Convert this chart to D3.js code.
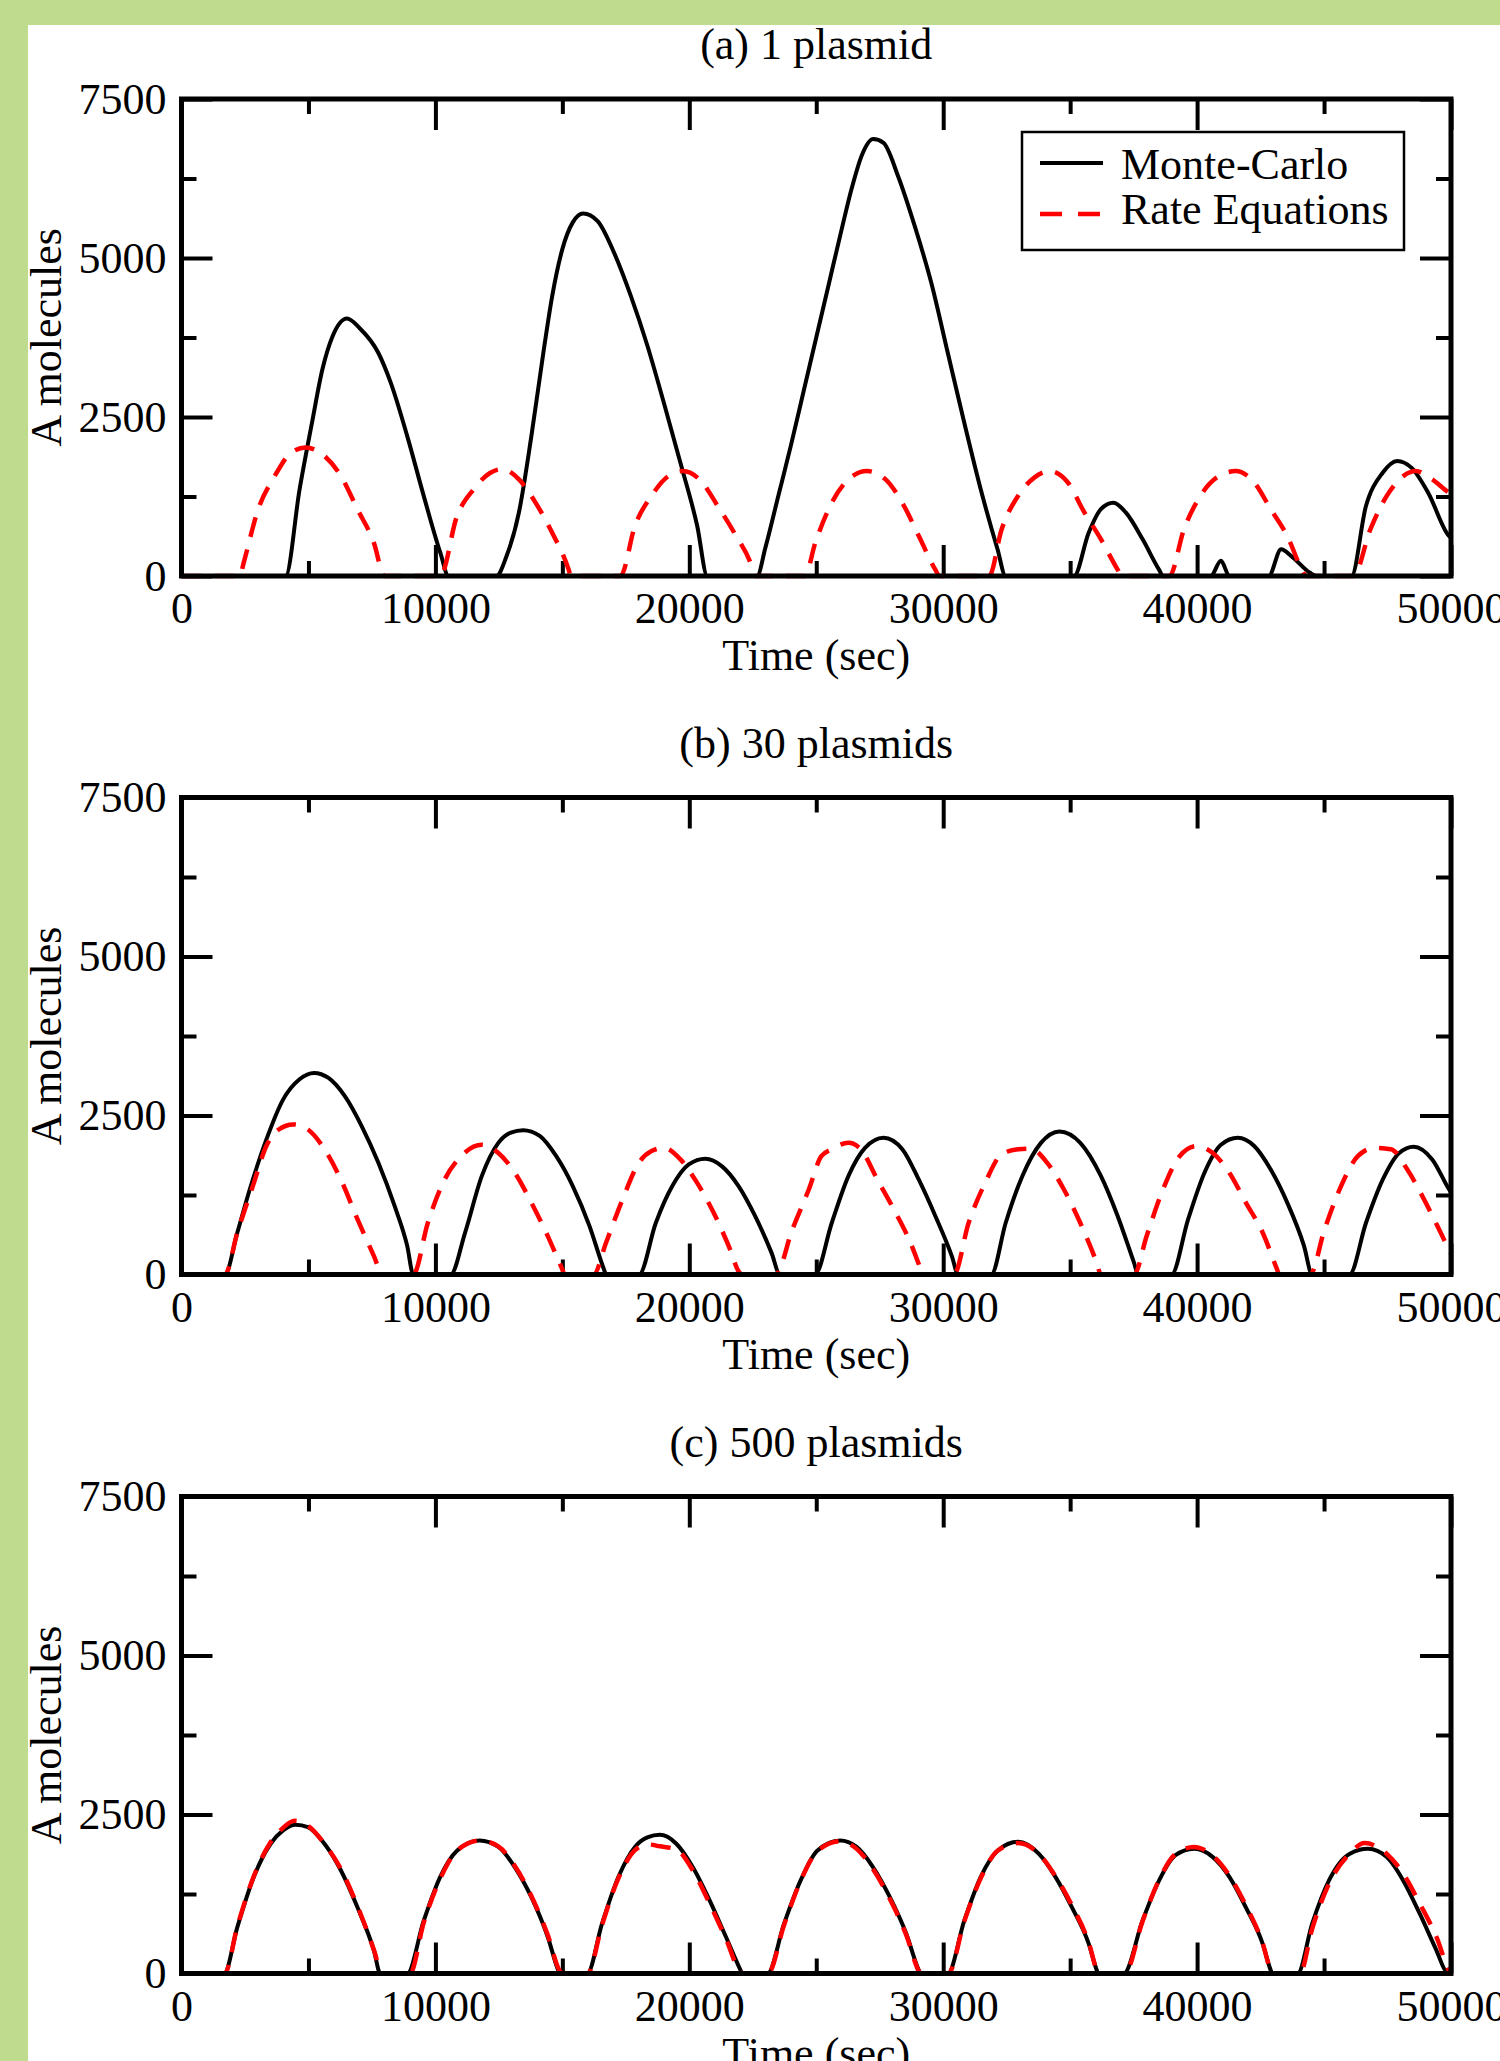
<!DOCTYPE html>
<html>
<head>
<meta charset="utf-8">
<title>A molecules</title>
<script src="https://cdn.jsdelivr.net/npm/d3@7/dist/d3.min.js"></script>
<style>
    body{ margin:0; padding:0; background:#fff; }
    svg text{ font-family:"Liberation Serif","Times New Roman",serif; fill:#000; }
    .tick line{ stroke:#000; stroke-width:4px; }
    .domain{ display:none; }
</style>
</head>
<body>
<svg id="chart" width="1500" height="2061"></svg>
<script>

// ---------- data: [time (sec), A molecules] ----------
var mc1 = [[0,0],[4100,0],[4650,1360],[5140,2410],[5550,3250],[5950,3770],[6520,4050],[7010,3900],
    [7750,3510],[8240,3040],[8890,2200],[9540,1260],[10190,370],[10520,0],[12400,0],[12800,310],
    [13290,1000],[13780,2200],[14270,3560],[14600,4400],[15000,5140],[15410,5560],[15820,5700],
    [16390,5580],[17040,5080],[17700,4400],[18350,3620],[19000,2720],[19650,1780],[20310,790],
    [20710,0],[22670,0],[23000,450],[23500,1250],[24000,2050],[24500,2900],[25000,3750],[25500,4600],
    [26000,5450],[26400,6100],[26800,6620],[27240,6870],[27650,6810],[28220,6290],[28880,5500],
    [29530,4610],[30180,3510],[30830,2410],[31480,1360],[32140,420],[32460,0],[35150,0],[35730,680],
    [36210,1050],[36700,1150],[37190,1000],[37850,580],[38500,100],[38660,0],[40540,0],[40940,240],
    [41270,0],[42820,0],[43310,420],[43720,310],[44450,50],[44700,0],[46080,0],[46650,1100],
    [47300,1620],[47880,1810],[48450,1700],[49100,1310],[49920,630],[50000,600]];
var re1 = [[0,0],[2300,0],[2450,210],[3020,1050],[3670,1570],[4320,1940],[4890,2020],[5460,1940],
    [6280,1570],[6930,1050],[7580,520],[7990,0],[10190,0],[10850,940],[11500,1360],[12150,1620],
    [12640,1680],[13290,1520],[13950,1150],[14600,680],[15250,100],[15330,0],[17290,0],[17860,790],
    [18510,1260],[19170,1570],[19740,1650],[20470,1490],[21120,1100],[21770,680],[22510,100],
    [22590,0],[24550,0],[24960,520],[25610,1150],[26270,1520],[27000,1650],[27730,1520],[28390,1150],
    [29040,630],[29690,100],[29850,0],[31810,0],[32300,730],[32950,1260],[33600,1550],[34180,1650],
    [34910,1470],[35560,1000],[36210,580],[36870,100],[37030,0],[38910,0],[39480,730],[40130,1260],
    [40780,1550],[41520,1650],[42250,1470],[42900,1050],[43550,630],[44130,100],[44290,0],[46160,0],
    [46820,730],[47470,1260],[48120,1570],[48610,1650],[49260,1520],[49920,1310],[50000,1290]];

var mc30 = [[0,0],[1710,0],[2200,660],[2690,1340],[3340,2120],[4000,2750],[4650,3070],[5220,3170],
    [5790,3090],[6440,2800],[7100,2330],[7750,1760],[8400,1070],[8890,450],[9130,0],[10600,0],
    [11170,660],[11830,1550],[12480,2070],[12970,2230],[13460,2270],[14110,2180],[14760,1860],
    [15410,1390],[16070,760],[16640,80],[16720,0],[18020,0],[18680,810],[19330,1390],[19980,1730],
    [20630,1820],[21290,1700],[21940,1390],[22590,920],[23240,340],[23570,0],[24950,0],[25610,810],
    [26270,1550],[26920,1990],[27650,2150],[28390,1970],[29040,1490],[29690,920],[30340,290],
    [30590,0],[31890,0],[32460,810],[33120,1550],[33850,2070],[34580,2250],[35400,2070],[36210,1550],
    [36870,920],[37520,180],[37680,0],[38990,0],[39640,860],[40290,1600],[40940,2040],[41600,2150],
    [42250,2020],[42900,1650],[43550,1130],[44210,450],[44530,0],[46000,0],[46650,810],[47310,1490],
    [47960,1910],[48530,2010],[49260,1810],[49920,1340],[50000,1290]];
var re30 = [[0,0],[1710,0],[2200,660],[2850,1440],[3340,2020],[3830,2280],[4400,2360],[4980,2280],
    [5630,1970],[6280,1490],[6930,870],[7580,290],[7910,0],[9130,0],[9700,810],[10360,1490],
    [11010,1860],[11830,2040],[12480,1910],[13130,1600],[13780,1130],[14430,600],[15000,80],
    [15090,0],[16230,0],[16720,500],[17370,1180],[18020,1760],[18510,1940],[19000,1990],[19650,1810],
    [20310,1440],[20960,970],[21610,390],[21940,50],[22100,0],[23400,0],[24060,710],[24710,1340],
    [25200,1860],[25610,1970],[26270,2070],[26750,1970],[27410,1490],[28060,1020],[28710,500],
    [29120,80],[29200,0],[30420,0],[31000,810],[31650,1440],[32300,1890],[32950,1970],[33440,1980],
    [34090,1760],[34750,1340],[35400,810],[36050,180],[36210,0],[37520,0],[38010,600],[38660,1340],
    [39310,1860],[39970,2020],[40620,1910],[41270,1600],[41920,1130],[42580,660],[43150,80],
    [43230,0],[44450,0],[45020,710],[45670,1390],[46330,1860],[46980,1990],[47630,1970],[48280,1650],
    [48940,1180],[49590,660],[49920,390],[50000,330]];

var mc500 = [[0,0],[1680,0],[2200,730],[2850,1520],[3510,2040],[4000,2250],[4490,2340],[4980,2300],
    [5630,2040],[6280,1620],[6930,1040],[7580,360],[7830,0],[8890,0],[9540,830],[10190,1520],
    [10850,1930],[11740,2090],[12480,1990],[13130,1670],[13780,1200],[14430,570],[14840,50],
    [14900,0],[15980,0],[16560,780],[17210,1520],[17860,1990],[18350,2140],[18840,2180],[19490,2040],
    [20140,1670],[20800,1150],[21450,570],[22020,50],[22080,0],[23080,0],[23730,780],[24380,1460],
    [25040,1930],[25940,2090],[26590,1990],[27240,1670],[27900,1200],[28550,620],[29040,50],
    [29100,0],[30180,0],[30830,830],[31480,1520],[32140,1930],[32950,2070],[33770,1880],[34420,1520],
    [35070,1040],[35730,470],[36050,50],[36100,0],[37110,0],[37850,830],[38500,1460],[39150,1860],
    [39880,1960],[40620,1830],[41270,1520],[41920,1040],[42580,470],[42900,50],[42950,0],[43960,0],
    [44530,780],[45190,1460],[46000,1880],[46730,1960],[47470,1830],[48120,1460],[48770,940],
    [49430,360],[49830,20],[50000,0]];
var re500 = [[0,0],[1700,0],[2200,740],[2850,1530],[3500,2060],[4000,2290],[4450,2400],[4950,2330],
    [5630,2040],[6280,1640],[6930,1060],[7580,370],[7900,0],[9000,0],[9540,800],[10190,1490],
    [10850,1930],[11750,2090],[12480,2000],[13130,1690],[13780,1220],[14430,600],[14900,40],
    [15000,0],[16000,0],[16560,760],[17210,1500],[17860,1940],[18350,2030],[18840,2000],[19490,1950],
    [20140,1620],[20800,1100],[21450,540],[22000,30],[22100,0],[23100,0],[23730,760],[24380,1450],
    [25040,1920],[25940,2080],[26590,1960],[27240,1640],[27900,1170],[28550,600],[29050,30],
    [29100,0],[30200,0],[30830,820],[31480,1500],[32140,1930],[32950,2050],[33770,1880],[34420,1530],
    [35070,1070],[35730,490],[36080,30],[36150,0],[37150,0],[37850,820],[38500,1470],[39150,1880],
    [39880,1990],[40620,1850],[41270,1540],[41920,1070],[42570,490],[42930,30],[43000,0],[44050,0],
    [44530,700],[45180,1400],[46000,1880],[46600,2050],[47470,1880],[48120,1570],[48770,1100],
    [49430,570],[49920,50],[50000,0]];

var panelTitles = ["(a) 1 plasmid", "(b) 30 plasmids", "(c) 500 plasmids"];
var seriesNames = ["Monte-Carlo", "Rate Equations"];
var xMajorTicks = [0, 10000, 20000, 30000, 40000, 50000];
var xMinorTicks = [5000, 15000, 25000, 35000, 45000];
var yMajorTicks = [0, 2500, 5000, 7500];
var yMinorTicks = [1250, 3750, 6250];
var xLabel = "Time (sec)";
var yLabel = "A molecules";

// ---------- layout ----------
var W = 1500, H = 2061;
var left = 181.5, right = 1451;
var panelTops = [99, 797.5, 1496.5];
var plotH = 477;
var fontSize = 44;

var svg = d3.select("#chart");

svg.append("rect").attr("width", W).attr("height", H).attr("fill", "#bfdc8e");
svg.append("rect").attr("x", 28).attr("y", 25).attr("width", W - 28).attr("height", H - 25).attr("fill", "#fff");

var x = d3.scaleLinear().domain([0, 50000]).range([left, right]);

function drawPanel(i, mc, re, withLegend) {
    var top = panelTops[i];
    var bottom = top + plotH;
    var y = d3.scaleLinear().domain([0, 7500]).range([bottom, top]);
    var g = svg.append("g");

    // title
    g.append("text")
        .attr("x", (left + right) / 2)
        .attr("y", top - 40)
        .attr("text-anchor", "middle")
        .attr("font-size", fontSize)
        .text(panelTitles[i]);

    // axes, all ticks pointing inward
    g.append("g").attr("transform", "translate(0," + bottom + ")")
        .call(d3.axisBottom(x).tickValues(xMajorTicks).tickSize(-31).tickPadding(16).tickFormat(d3.format("d")))
        .call(function(a){ a.selectAll("text").attr("font-size", fontSize).attr("font-family", null); });
    g.append("g").attr("transform", "translate(0," + bottom + ")")
        .call(d3.axisBottom(x).tickValues(xMinorTicks).tickSize(-15).tickFormat(""));
    g.append("g").attr("transform", "translate(0," + top + ")")
        .call(d3.axisTop(x).tickValues(xMajorTicks).tickSize(-31).tickFormat(""));
    g.append("g").attr("transform", "translate(0," + top + ")")
        .call(d3.axisTop(x).tickValues(xMinorTicks).tickSize(-15).tickFormat(""));

    g.append("g").attr("transform", "translate(" + left + ",0)")
        .call(d3.axisLeft(y).tickValues(yMajorTicks).tickSize(-31).tickPadding(15).tickFormat(d3.format("d")))
        .call(function(a){ a.selectAll("text").attr("font-size", fontSize).attr("font-family", null).attr("dy", "0.32em"); });
    g.append("g").attr("transform", "translate(" + left + ",0)")
        .call(d3.axisLeft(y).tickValues(yMinorTicks).tickSize(-15).tickFormat(""));
    g.append("g").attr("transform", "translate(" + right + ",0)")
        .call(d3.axisRight(y).tickValues(yMajorTicks).tickSize(-31).tickFormat(""));
    g.append("g").attr("transform", "translate(" + right + ",0)")
        .call(d3.axisRight(y).tickValues(yMinorTicks).tickSize(-15).tickFormat(""));

    var line = d3.line()
        .x(function(d){ return x(d[0]); })
        .y(function(d){ return y(d[1]); })
        .curve(d3.curveMonotoneX);

    // Monte-Carlo first, rate equations dashed on top
    g.append("path").datum(mc)
        .attr("d", line)
        .attr("fill", "none")
        .attr("stroke", "#000")
        .attr("stroke-width", 4)
        .attr("stroke-linejoin", "round");

    g.append("path").datum(re)
        .attr("d", line)
        .attr("fill", "none")
        .attr("stroke", "#ff0000")
        .attr("stroke-width", 4.5)
        .attr("stroke-dasharray", "20,13");

    // frame
    g.append("rect")
        .attr("x", left).attr("y", top)
        .attr("width", right - left).attr("height", plotH)
        .attr("fill", "none").attr("stroke", "#000").attr("stroke-width", 5);

    // axis labels
    g.append("text")
        .attr("x", (left + right) / 2)
        .attr("y", bottom + 94)
        .attr("text-anchor", "middle")
        .attr("font-size", fontSize)
        .text(xLabel);

    g.append("text")
        .attr("transform", "translate(61," + (top + plotH / 2) + ") rotate(-90)")
        .attr("text-anchor", "middle")
        .attr("font-size", fontSize)
        .text(yLabel);

    if (withLegend) {
        var lg = g.append("g");
        lg.append("rect")
            .attr("x", 1022).attr("y", 132)
            .attr("width", 382).attr("height", 118)
            .attr("fill", "#fff").attr("stroke", "#000").attr("stroke-width", 2.5);
        var styles = [{c:"#000", dash:null, w:4}, {c:"#ff0000", dash:"22,16", w:4.5}];
        seriesNames.forEach(function(name, k){
            var ly = 163 + k * 51;
            lg.append("line")
                .attr("x1", 1040).attr("x2", 1103)
                .attr("y1", ly).attr("y2", ly)
                .attr("stroke", styles[k].c)
                .attr("stroke-width", styles[k].w)
                .attr("stroke-dasharray", styles[k].dash);
            lg.append("text")
                .attr("x", 1121).attr("y", 179 + k * 45)
                .attr("font-size", fontSize)
                .text(name);
        });
    }
}

drawPanel(0, mc1, re1, true);
drawPanel(1, mc30, re30, false);
drawPanel(2, mc500, re500, false);

</script>
</body>
</html>
